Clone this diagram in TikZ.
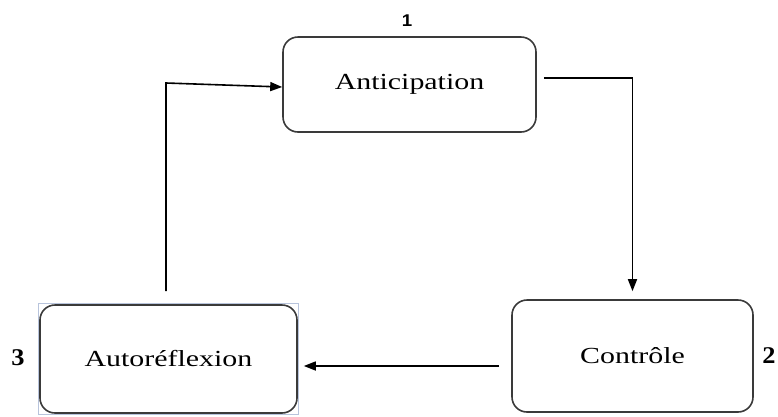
\documentclass[tikz,border=0pt]{standalone}
\usepackage{fontspec}
\setmainfont{Liberation Serif}[FakeStretch=1.3]
\newfontfamily\numserif{Liberation Serif}[FakeStretch=1.1]
\newfontfamily\numsans{Liberation Sans}[FakeStretch=1.1]
\usetikzlibrary{arrows.meta}
\definecolor{boxline}{HTML}{3A3A3A}
\definecolor{selblue}{HTML}{B8C4DC}
\tikzset{
    phase/.style={draw=boxline, line width=1.6pt, rounded corners=15pt,
        font=\fontsize{23}{27}\selectfont, inner sep=0pt},
    arr/.style={-{Triangle[length=12pt,width=9pt]}, line width=1.6pt},
    num/.style={font=\fontsize{24}{28}\selectfont\numserif\bfseries}
}
\begin{document}
\begin{tikzpicture}[x=1pt,y=-1pt]
    \useasboundingbox (0,0) rectangle (778,416);
    % phases
    \node[phase, minimum width=253pt, minimum height=95pt] (antic) at (409.5,84.5) {Anticipation};
    \node[phase, minimum width=241pt, minimum height=112pt] (ctrl) at (632.5,356) {Contrôle};
    \node[phase, minimum width=257pt, minimum height=108pt] (auto) at (168.5,359) {Autoréflexion};
    % selection frame
    \draw[selblue, line width=0.6pt] (38,303) rectangle (298,414);
    % numbers
    \node[font=\fontsize{17}{20}\selectfont\numsans\bfseries] (n1) at (407,21) {1};
    \node[num] (n2) at (769,356) {2};
    \node[num] (n3) at (18,358) {3};
    % cycle
    \coordinate (bend) at (166,83);
    \draw[arr] ([xshift=7pt,yshift=6.5pt]antic.east) -| ([yshift=8pt]ctrl.north);
    \draw[arr] ([xshift=-12pt,yshift=-10pt]ctrl.west) -- ([xshift=6pt,yshift=-7pt]auto.east);
    \draw[arr] ([xshift=-2.5pt,yshift=13pt]auto.north) -- (bend) -- ([yshift=-2.5pt]antic.west);
\end{tikzpicture}
\end{document}
